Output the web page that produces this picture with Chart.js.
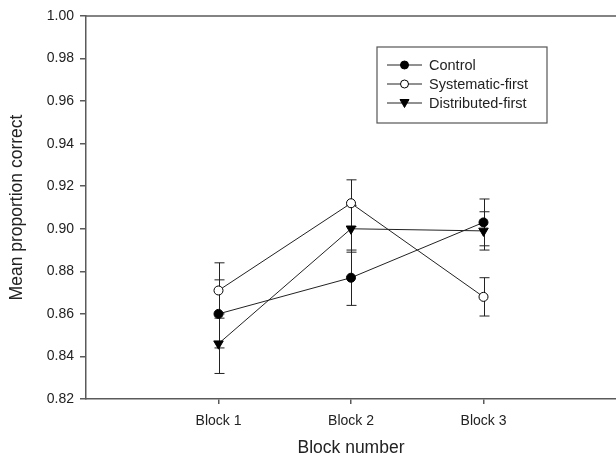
<!DOCTYPE html>
<html>
<head>
<meta charset="utf-8">
<script src="https://cdn.jsdelivr.net/npm/chart.js@4/dist/chart.umd.min.js"></script>
<style>
  html, body { margin: 0; padding: 0; background: #fff; }
  #wrap { width: 616px; height: 459px; }
</style>
</head>
<body>
<div id="wrap"><canvas id="lineChart"></canvas></div>
<script>
const blocks = ["Block 1", "Block 2", "Block 3"];
const yTicks = [0.82, 0.84, 0.86, 0.88, 0.90, 0.92, 0.94, 0.96, 0.98, 1.00];

const control = [0.860, 0.877, 0.903];
const controlErr = [0.016, 0.013, 0.011];
const systematic = [0.871, 0.912, 0.868];
const systematicErr = [0.013, 0.011, 0.009];
const distributed = [0.846, 0.900, 0.899];
const distributedErr = [0.014, 0.011, 0.009];

const FONT = "'Liberation Sans', Arial, sans-serif";
const AXIS_COLOR = "#5a5a5a";
const TEXT_COLOR = "#222";

const toPoints = (vals) => vals.map((v, i) => ({ x: i + 1, y: v }));

// vertical error bars with caps, under the markers
const errorBars = {
  id: "errorBars",
  beforeDatasetsDraw(chart) {
    const { ctx, scales: { x, y } } = chart;
    ctx.save();
    ctx.strokeStyle = "#222";
    ctx.lineWidth = 1;
    chart.data.datasets.forEach((ds) => {
      ds.data.forEach((p, i) => {
        const e = ds.errors[i];
        const px = Math.round(x.getPixelForValue(p.x)) + 0.5;
        const top = y.getPixelForValue(p.y + e);
        const bot = y.getPixelForValue(p.y - e);
        ctx.beginPath();
        ctx.moveTo(px, top);
        ctx.lineTo(px, bot);
        ctx.moveTo(px - 5, top);
        ctx.lineTo(px + 5, top);
        ctx.moveTo(px - 5, bot);
        ctx.lineTo(px + 5, bot);
        ctx.stroke();
      });
    });
    ctx.restore();
  },
};

// top frame line + boxed legend with line-and-marker samples
const frameAndLegend = {
  id: "frameAndLegend",
  afterDraw(chart) {
    const { ctx, chartArea } = chart;
    ctx.save();
    ctx.strokeStyle = AXIS_COLOR;
    ctx.lineWidth = 1.5;
    ctx.beginPath();
    ctx.moveTo(chartArea.left, chartArea.top);
    ctx.lineTo(chart.width, chartArea.top);
    ctx.stroke();

    const bx = 377, by = 47, bw = 170, bh = 76;
    ctx.lineWidth = 1.2;
    ctx.strokeStyle = "#555";
    ctx.strokeRect(bx, by, bw, bh);

    ctx.font = "14.5px " + FONT;
    ctx.textBaseline = "middle";
    ctx.fillStyle = TEXT_COLOR;
    chart.data.datasets.forEach((ds, i) => {
      const ly = 65 + i * 19;
      ctx.strokeStyle = "#222";
      ctx.lineWidth = 1;
      ctx.beginPath();
      ctx.moveTo(387, ly);
      ctx.lineTo(422, ly);
      ctx.stroke();
      ctx.fillStyle = ds.pointBackgroundColor;
      ctx.strokeStyle = "#000";
      ctx.beginPath();
      if (ds.pointStyle === "triangle") {
        ctx.moveTo(404.5 - 4.5, ly - 3.5);
        ctx.lineTo(404.5 + 4.5, ly - 3.5);
        ctx.lineTo(404.5, ly + 4.5);
        ctx.closePath();
      } else {
        ctx.arc(404.5, ly, 4, 0, Math.PI * 2);
      }
      ctx.fill();
      ctx.stroke();
      ctx.fillStyle = TEXT_COLOR;
      ctx.fillText(ds.label, 429, ly + 1);
    });
    ctx.restore();
  },
};

const series = (label, vals, errs, fill, style) => ({
  label: label,
  data: toPoints(vals),
  errors: errs,
  borderColor: "#222",
  borderWidth: 1,
  pointStyle: style,
  pointRadius: style === "triangle" ? 5.5 : 4.5,
  pointRotation: style === "triangle" ? 180 : 0,
  pointBackgroundColor: fill,
  pointBorderColor: "#000",
  pointBorderWidth: 1,
  tension: 0,
  fill: false,
});

new Chart(document.getElementById("lineChart"), {
  type: "line",
  data: {
    datasets: [
      series("Control", control, controlErr, "#000", "circle"),
      series("Systematic-first", systematic, systematicErr, "#fff", "circle"),
      series("Distributed-first", distributed, distributedErr, "#000", "triangle"),
    ],
  },
  options: {
    responsive: true,
    maintainAspectRatio: false,
    animation: false,
    layout: { autoPadding: false, padding: { top: 16, right: 0, left: 0, bottom: 0 } },
    plugins: {
      legend: { display: false },
      tooltip: { enabled: false },
    },
    scales: {
      x: {
        type: "linear",
        min: 0,
        max: 4,
        afterBuildTicks: (axis) => {
          axis.ticks = blocks.map((b, i) => ({ value: i + 1 }));
        },
        afterFit: (axis) => {
          axis.height = 60;
          axis.paddingLeft = 0;
          axis.paddingRight = 0;
        },
        ticks: {
          callback: (v) => blocks[v - 1],
          color: TEXT_COLOR,
          font: { family: FONT, size: 14 },
          padding: 9,
          maxRotation: 0,
        },
        grid: { drawOnChartArea: false, drawTicks: true, tickLength: 5, color: AXIS_COLOR, lineWidth: 1.5 },
        border: { display: true, color: AXIS_COLOR, width: 1.5 },
        title: {
          display: true,
          text: "Block number",
          color: TEXT_COLOR,
          font: { family: FONT, size: 17.5 },
          padding: { top: -2, bottom: 0 },
        },
      },
      y: {
        min: 0.82,
        max: 1.0,
        afterBuildTicks: (axis) => {
          axis.ticks = yTicks.map((v) => ({ value: v }));
        },
        afterFit: (axis) => { axis.width = 86; },
        ticks: {
          callback: (v) => v.toFixed(2),
          color: TEXT_COLOR,
          font: { family: FONT, size: 14 },
          padding: 6,
        },
        grid: { drawOnChartArea: false, drawTicks: true, tickLength: 6, color: AXIS_COLOR, lineWidth: 1.5 },
        border: { display: true, color: AXIS_COLOR, width: 1.5 },
        title: {
          display: true,
          text: "Mean proportion correct",
          color: TEXT_COLOR,
          font: { family: FONT, size: 17.5 },
          padding: { top: 7, bottom: 0 },
        },
      },
    },
  },
  plugins: [errorBars, frameAndLegend],
});
</script>
</body>
</html>
